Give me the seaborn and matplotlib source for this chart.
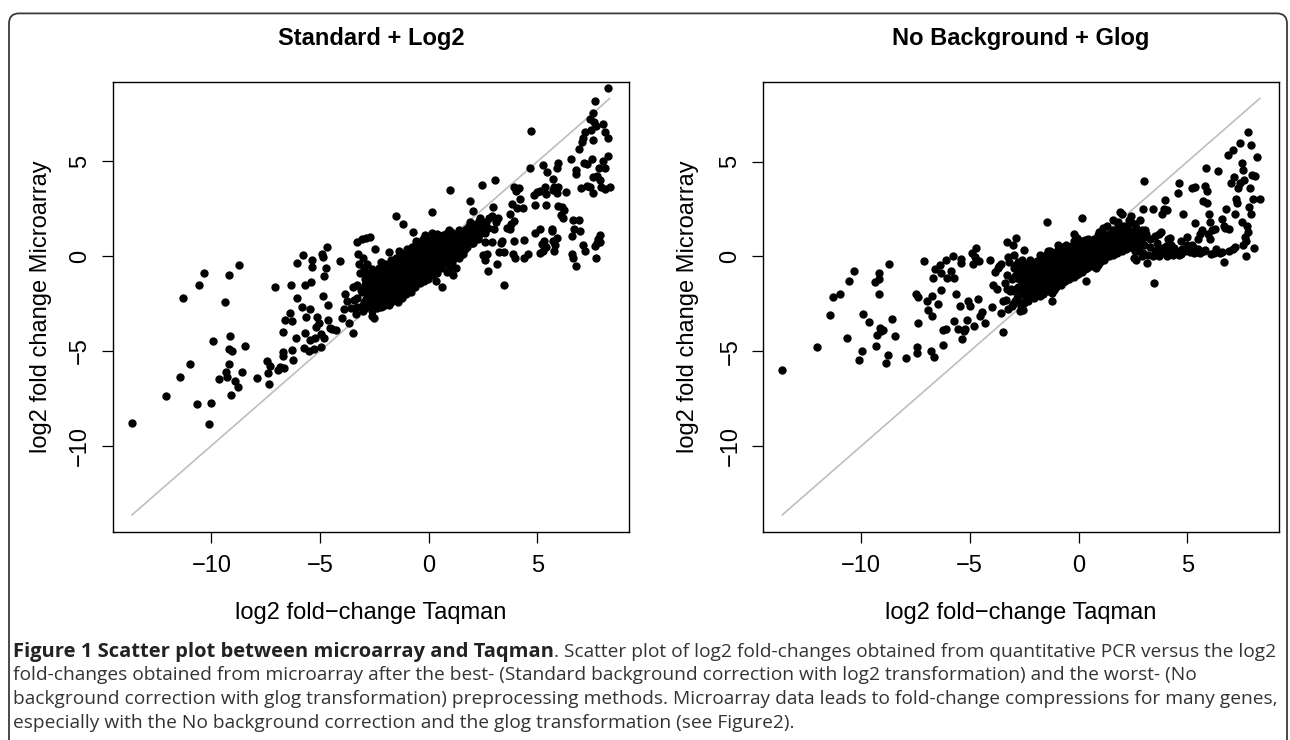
import matplotlib
matplotlib.use("Agg")
import matplotlib.pyplot as plt
import matplotlib.transforms as mtransforms
from matplotlib.patches import FancyBboxPatch
import seaborn as sns
import pandas as pd

sns.set_theme(style="white")
plt.rcParams['font.family'] = ['Liberation Sans', 'DejaVu Sans']

# ---------------- data ----------------
titles = ["Standard + Log2", "No Background + Glog"]
xlabel = "log2 fold\u2212change Taqman"
ylabel = "log2 fold change Microarray"
ticks = [-10, -5, 0, 5]

caption_bold = "Figure 1 Scatter plot between microarray and Taqman"
caption_lines = [
    ". Scatter plot of log2 fold-changes obtained from quantitative PCR versus the log2",
    "fold-changes obtained from microarray after the best- (Standard background correction with log2 transformation) and the worst- (No",
    "background correction with glog transformation) preprocessing methods. Microarray data leads to fold-change compressions for many genes,",
    "especially with the No background correction and the glog transformation (see Figure2).",
]

# (Taqman log2 FC, Microarray log2 FC) -- Standard + Log2, scattered points
std_sparse = [
    (-13.66, -8.81), (-12.08, -7.36), (-11.44, -6.39), (-11.29, -2.22), (-10.97, -5.69), (-10.68, -7.80),
    (-10.55, -1.53), (-10.34, -0.91), (-10.09, -8.83), (-10.00, -7.74), (-9.91, -4.46), (-9.64, -6.49),
    (-9.38, -2.40), (-9.34, -6.09), (-9.30, -6.35), (-9.20, -0.97), (-9.19, -5.71), (-9.17, -4.90),
    (-9.15, -4.19), (-9.11, -7.32), (-9.03, -5.00), (-8.90, -6.61), (-8.79, -6.90), (-8.73, -0.44),
    (-8.58, -6.11), (-8.47, -4.74), (-7.90, -6.41), (-7.44, -5.54), (-7.37, -6.73), (-7.41, -6.15),
    (-7.31, -5.81), (-7.06, -1.61), (-6.95, -6.01), (-6.84, -5.85), (-6.72, -3.99), (-6.70, -5.06),
    (-6.69, -5.28), (-6.65, -5.89), (-6.61, -3.37), (-6.40, -3.02), (-6.34, -1.51), (-6.31, -3.43),
    (-6.27, -4.94), (-6.23, -5.48), (-6.12, -4.33), (-6.08, -2.22), (-6.04, -0.34), (-5.85, -2.68),
    (-5.80, 0.04), (-5.74, -4.84), (-5.70, -4.03), (-5.70, -1.51), (-5.63, -3.19), (-5.51, -5.00),
    (-5.47, -4.40), (-5.45, -2.78), (-5.42, -1.37), (-5.38, -0.20), (-5.36, -0.56), (-5.28, -4.88),
    (-5.23, -4.33), (-5.17, -3.73), (-5.13, -3.23), (-5.04, -3.53), (-4.98, -4.13), (-4.94, -4.80),
    (-4.89, 0.14), (-4.87, -0.04), (-4.85, -2.08), (-4.83, -4.33), (-4.81, -1.05), (-4.75, -0.60),
    (-4.70, 0.50), (-4.62, -2.58), (-4.62, -3.39), (-4.56, -3.79), (-4.47, -3.83), (-4.28, -3.87),
    (-4.09, -0.24), (-4.00, -3.27), (-3.88, -2.78), (-3.84, -2.02), (-3.77, -2.38), (-3.66, -3.53),
    (-3.58, -2.72), (-3.50, -1.65), (-3.47, -4.07), (-3.43, -2.30), (-3.37, -3.06), (-3.28, 0.77),
    (-3.24, 0.10), (-3.20, -0.40), (-3.18, -0.91), (-3.14, -1.81), (-3.09, -2.62), (-3.05, 0.91),
    (-3.01, -0.10), (-2.95, -1.51), (-2.90, 0.97), (-2.82, -0.40), (-2.77, -2.12), (-2.71, 1.01),
    (-2.67, -1.01), (-2.61, -3.13), (-2.58, -2.42), (-2.52, -3.27), (-2.48, 0.40), (-2.44, -1.81),
    (-2.39, -2.72), (-2.33, -0.97), (-2.29, -2.22), (-2.20, -1.45), (-2.10, -2.62), (-2.01, -0.40),
    (-1.91, -2.52), (-1.82, -1.81), (-1.76, -1.21), (-1.50, 2.12), (-1.19, 1.71), (-0.74, 1.29),
    (0.17, 2.32), (0.98, 3.49), (1.88, 2.92), (2.03, 2.36), (2.44, 3.77), (3.05, 4.03),
    (4.68, 6.59), (4.66, 4.68), (5.25, 4.80), (5.44, 4.44), (5.93, 4.94), (5.89, 4.64),
    (6.52, 5.14), (5.70, 4.07), (5.76, 3.63), (6.76, 4.54), (6.76, 4.33), (6.89, 5.65),
    (7.03, 6.05), (7.08, 6.25), (7.18, 6.55), (7.14, 4.94), (7.27, 4.84), (7.41, 7.22),
    (7.48, 6.65), (7.56, 7.56), (7.65, 8.17), (7.61, 7.06), (7.67, 6.85), (7.56, 6.15),
    (7.50, 5.14), (7.84, 4.64), (8.03, 7.00), (8.09, 6.55), (8.24, 6.25), (8.24, 8.87),
    (8.03, 5.04), (8.12, 4.64), (7.75, 4.23), (7.86, 4.03), (7.56, 4.19), (7.27, 3.73),
    (7.41, 3.63), (7.92, 3.67), (8.26, 5.28), (8.33, 3.63), (7.00, 3.59), (7.54, 3.33),
    (8.12, 3.53), (6.65, 1.92), (6.89, 1.92), (6.67, 1.41), (6.97, 1.31), (6.61, 1.05),
    (6.57, 0.10), (6.65, -0.10), (6.76, -0.54), (7.08, 0.60), (7.18, 0.30), (7.65, 0.56),
    (7.75, 0.71), (7.80, 0.91), (7.86, 1.11), (7.71, -0.10), (7.86, 0.77), (6.14, 2.62),
    (5.95, 2.66), (6.23, 2.46), (6.19, 2.02), (6.08, 2.16), (6.33, 3.39), (5.89, 3.33),
    (5.70, 3.47), (5.95, 3.63), (5.34, 3.63), (5.13, 3.43), (4.85, 3.23), (5.00, 3.39),
    (5.38, 3.27), (4.87, 2.72), (5.38, 2.68), (4.87, 1.21), (5.10, 1.45), (5.66, 1.41),
    (5.70, 0.81), (5.32, 0.81), (5.19, 0.65), (5.38, 0.50), (5.13, 0.16), (5.25, 0.30),
    (5.76, 0.30), (5.81, 0.60), (5.89, 0.97), (5.66, 1.31), (4.38, 0.85), (3.92, 0.81),
    (4.58, 0.10), (4.38, -0.10), (3.96, -0.10), (3.86, 0.10), (3.58, 1.51), (3.77, 1.71),
    (3.92, 1.85), (3.73, 1.41), (4.32, 2.52), (4.19, 3.02), (4.07, 2.52), (4.13, 3.59),
    (3.92, 3.67), (4.02, 3.43), (3.73, 2.22), (3.81, 2.78), (3.48, -1.51), (3.16, -0.40),
    (2.73, -0.77), (2.59, -0.20), (2.48, 0.04), (2.67, 0.10), (2.92, 0.77), (3.30, 0.71),
    (3.24, 0.20), (3.48, 0.20), (3.37, 0.81), (3.01, 1.45), (3.11, 1.81), (3.20, 2.02),
    (2.78, 2.02), (2.92, 2.12), (2.97, 2.62), (2.73, 1.51), (2.59, 0.77), (2.59, 1.21),
    (2.44, 1.41), (2.29, 1.81), (2.06, 1.61), (1.88, 1.81), (1.84, 1.41), (2.16, 1.21),
    (2.25, 0.91), (2.03, 0.71), (1.69, 0.60), (1.59, 0.10), (1.40, -0.10), (1.27, -0.60),
    (1.12, -0.97), (0.83, -0.81), (0.59, -1.61), (0.32, -1.31), (0.93, 1.37), (0.64, 1.11),
    (0.40, 1.17), (0.13, 1.21), (-0.17, 1.11), (-0.25, 0.91),
]

# Standard + Log2, dense core of the cloud
std_core = [
    (-3.02, -2.9), (-2.97, -2.4), (-3.05, -1.9), (-2.95, -1.2), (-3.00, -0.6),
    (-2.83, -2.6), (-2.78, -2.1), (-2.85, -1.6), (-2.76, -1.0),
    (-2.63, -2.9), (-2.58, -2.3), (-2.62, -1.8), (-2.55, -1.3), (-2.60, -0.7),
    (-2.43, -2.5), (-2.38, -2.0), (-2.41, -1.5), (-2.36, -1.1),
    (-2.22, -2.7), (-2.17, -2.2), (-2.24, -1.8), (-2.19, -1.3), (-2.15, -0.8), (-2.21, -0.3),
    (-2.03, -2.4), (-1.98, -2.0), (-2.02, -1.6), (-1.96, -1.2), (-2.05, -0.9),
    (-1.82, -2.6), (-1.78, -2.1), (-1.84, -1.7), (-1.77, -1.4), (-1.81, -1.0), (-1.76, -0.5), (-1.83, 0.2),
    (-1.62, -2.2), (-1.57, -1.9), (-1.63, -1.5), (-1.58, -1.2), (-1.61, -0.8), (-1.56, -0.4),
    (-1.43, -2.4), (-1.38, -2.0), (-1.42, -1.7), (-1.37, -1.3), (-1.41, -1.0), (-1.36, -0.6), (-1.44, -0.2), (-1.39, 0.3),
    (-1.22, -2.2), (-1.18, -1.8), (-1.23, -1.5), (-1.17, -1.1), (-1.21, -0.8), (-1.16, -0.5), (-1.20, -0.1),
    (-1.03, -2.0), (-0.98, -1.7), (-1.02, -1.4), (-0.97, -1.1), (-1.01, -0.8), (-0.96, -0.5), (-1.04, -0.2), (-0.99, 0.4),
    (-0.82, -1.9), (-0.78, -1.5), (-0.83, -1.2), (-0.77, -0.9), (-0.81, -0.6), (-0.76, -0.3), (-0.80, 0.0), (-0.79, 0.5),
    (-0.62, -1.6), (-0.58, -1.3), (-0.63, -1.0), (-0.57, -0.7), (-0.61, -0.4), (-0.56, -0.1), (-0.60, 0.3), (-0.59, 0.8),
    (-0.42, -1.4), (-0.38, -1.1), (-0.43, -0.8), (-0.37, -0.5), (-0.41, -0.2), (-0.36, 0.1), (-0.40, 0.5),
    (-0.22, -1.3), (-0.18, -1.0), (-0.23, -0.7), (-0.17, -0.4), (-0.21, -0.1), (-0.16, 0.2), (-0.20, 0.6), (-0.19, 1.0),
    (-0.02, -1.2), (0.02, -0.8), (-0.03, -0.5), (0.03, -0.2), (-0.01, 0.1), (0.04, 0.4), (0.00, 0.7),
    (0.18, -1.0), (0.22, -0.6), (0.17, -0.3), (0.23, 0.0), (0.19, 0.3), (0.24, 0.6), (0.20, 0.9),
    (0.38, -0.9), (0.42, -0.5), (0.37, -0.2), (0.43, 0.1), (0.39, 0.4), (0.44, 0.8), (0.40, 1.1),
    (0.58, -0.6), (0.62, -0.3), (0.57, 0.0), (0.63, 0.3), (0.59, 0.6), (0.64, 0.9),
    (0.78, -0.4), (0.82, -0.1), (0.77, 0.2), (0.83, 0.5), (0.79, 0.8), (0.84, 1.2),
    (0.98, -0.6), (1.02, -0.2), (0.97, 0.2), (1.03, 0.5), (0.99, 0.9), (1.04, 1.3),
    (1.18, -0.1), (1.22, 0.3), (1.17, 0.6), (1.23, 1.0),
    (1.38, 0.1), (1.42, 0.4), (1.37, 0.8), (1.43, 1.1), (1.39, 1.4),
    (1.58, 0.3), (1.62, 0.7), (1.57, 1.0), (1.63, 1.3),
    (1.78, 0.5), (1.82, 0.9), (1.77, 1.2), (1.83, 1.6),
    (1.98, 0.7), (2.02, 1.1), (1.97, 1.5),
    (2.18, 0.9), (2.22, 1.3), (2.17, 1.7),
    (2.38, 1.2), (2.42, 1.6), (2.37, 2.0),
    (2.58, 1.4), (2.62, 1.8),
]

# Standard + Log2, more points filling the core
std_core_fill = [
    (-3.32, -2.7), (-3.28, -2.2), (-3.31, -1.5),
    (-2.92, -2.75), (-2.88, -2.25), (-2.91, -1.75), (-2.87, -1.4), (-2.9, -0.9),
    (-2.72, -2.45), (-2.68, -1.95), (-2.71, -1.5), (-2.67, -1.15),
    (-2.52, -2.7), (-2.48, -2.15), (-2.51, -1.65), (-2.47, -1.2), (-2.5, -0.9),
    (-2.32, -2.35), (-2.28, -1.9), (-2.31, -1.6), (-2.27, -1.2), (-2.3, -0.6),
    (-2.12, -2.5), (-2.08, -2.1), (-2.11, -1.7), (-2.07, -1.4), (-2.1, -1.05), (-2.09, -0.6),
    (-1.92, -2.3), (-1.88, -1.85), (-1.91, -1.5), (-1.87, -1.15), (-1.9, -0.75),
    (-1.72, -2.4), (-1.68, -2.0), (-1.71, -1.6), (-1.67, -1.3), (-1.7, -0.95), (-1.69, -0.6), (-1.73, -0.2),
    (-1.52, -2.3), (-1.48, -1.85), (-1.51, -1.55), (-1.47, -1.15), (-1.5, -0.9), (-1.49, -0.5), (-1.53, -0.1),
    (-1.32, -2.1), (-1.28, -1.65), (-1.31, -1.35), (-1.27, -0.95), (-1.3, -0.65), (-1.29, -0.3), (-1.33, 0.1),
    (-1.12, -1.9), (-1.08, -1.55), (-1.11, -1.25), (-1.07, -0.95), (-1.1, -0.65), (-1.09, -0.35), (-1.13, 0.1),
    (-0.92, -1.8), (-0.88, -1.35), (-0.91, -1.05), (-0.87, -0.75), (-0.9, -0.45), (-0.89, -0.15), (-0.93, 0.2),
    (-0.72, -1.45), (-0.68, -1.15), (-0.71, -0.85), (-0.67, -0.55), (-0.7, -0.25), (-0.69, 0.1), (-0.73, 0.5),
    (-0.52, -1.25), (-0.48, -0.95), (-0.51, -0.65), (-0.47, -0.35), (-0.5, -0.05), (-0.49, 0.3), (-0.53, 0.65),
    (-0.32, -1.15), (-0.28, -0.85), (-0.31, -0.55), (-0.27, -0.25), (-0.3, 0.05), (-0.29, 0.4), (-0.33, 0.8),
    (-0.12, -1.0), (-0.08, -0.65), (-0.11, -0.35), (-0.07, -0.05), (-0.1, 0.25), (-0.09, 0.55), (-0.13, 0.9),
    (0.08, -0.9), (0.12, -0.45), (0.09, -0.15), (0.13, 0.15), (0.1, 0.45), (0.11, 0.8),
    (0.28, -0.75), (0.32, -0.35), (0.29, -0.05), (0.33, 0.25), (0.3, 0.55), (0.31, 0.95),
    (0.48, -0.45), (0.52, -0.15), (0.49, 0.15), (0.53, 0.45), (0.5, 0.75), (0.51, 1.05),
    (0.68, -0.25), (0.72, 0.05), (0.69, 0.35), (0.73, 0.65), (0.7, 1.0),
    (0.88, -0.4), (0.92, 0.0), (0.89, 0.35), (0.93, 0.7), (0.9, 1.1),
    (1.08, -0.3), (1.12, 0.1), (1.09, 0.45), (1.13, 0.8), (1.1, 1.15),
    (1.28, 0.2), (1.32, 0.55), (1.29, 0.9), (1.33, 1.25),
    (1.48, 0.2), (1.52, 0.55), (1.49, 0.9), (1.53, 1.2),
    (1.68, 0.4), (1.72, 0.8), (1.69, 1.15), (1.73, 1.45),
    (1.88, 0.9), (1.92, 1.3), (2.08, 0.9), (2.12, 1.3),
    (2.28, 1.0), (2.32, 1.45), (2.29, 1.85),
]

# No Background + Glog, scattered points
nbg_sparse = [
    (-13.62, -5.99), (-12.04, -4.78), (-11.42, -3.06), (-11.26, -2.16), (-10.94, -1.98), (-10.66, -4.29),
    (-10.53, -1.27), (-10.32, -0.77), (-10.09, -5.44), (-9.96, -5.00), (-9.91, -3.02), (-9.62, -3.47),
    (-9.34, -1.35), (-9.30, -4.74), (-9.25, -4.13), (-9.19, -1.98), (-9.19, -0.85), (-9.15, -1.17),
    (-9.11, -3.79), (-9.06, -3.93), (-9.00, -3.87), (-8.87, -5.60), (-8.77, -5.18), (-8.72, -0.40),
    (-8.58, -3.27), (-8.45, -4.17), (-7.91, -5.34), (-7.49, -1.96), (-7.42, -4.78), (-7.40, -5.08),
    (-7.36, -3.53), (-7.36, -2.12), (-7.08, -0.24), (-6.96, -2.32), (-6.92, -2.82), (-6.79, -5.00),
    (-6.75, -3.13), (-6.74, -2.06), (-6.70, -1.11), (-6.64, -5.30), (-6.60, -0.67), (-6.45, -2.52),
    (-6.36, -0.44), (-6.32, -1.75), (-6.30, -0.85), (-6.25, -4.64), (-6.21, -3.87), (-6.08, -0.20),
    (-6.09, -3.83), (-6.04, -1.15), (-5.85, -0.77), (-5.79, 0.04), (-5.72, -1.15), (-5.72, -3.39),
    (-5.62, -1.96), (-5.53, -3.83), (-5.47, -2.62), (-5.42, -0.36), (-5.38, -0.14), (-5.34, -4.33),
    (-5.26, -3.93), (-5.23, -3.83), (-5.13, -3.33), (-5.06, -2.32), (-5.00, -2.62), (-4.91, 0.16),
    (-4.85, -0.40), (-4.81, -3.67), (-4.75, -0.04), (-4.70, 0.44), (-4.64, -2.22), (-4.58, -0.24),
    (-4.53, -3.13), (-4.43, -2.92), (-4.32, -3.49), (-4.09, -0.16), (-3.96, -2.66), (-3.91, -1.51),
    (-3.83, -0.81), (-3.77, -1.71), (-3.72, -0.60), (-3.64, -0.50), (-3.57, -2.98), (-3.57, -0.40),
    (-3.49, -2.32), (-3.45, -3.97), (-3.40, -1.41), (-3.30, 0.75), (-3.26, -2.78), (-3.25, -0.04),
    (-3.19, -0.30), (-3.15, -1.81), (-3.11, -1.71), (-3.06, -2.62), (-3.02, 0.60), (-2.96, 0.10),
    (-2.89, 0.97), (-2.83, -1.11), (-2.74, -2.38), (-2.68, -2.86), (-2.64, -0.44), (-2.58, -1.41),
    (-2.55, -2.82), (-2.51, 0.36), (-2.45, -2.02), (-2.40, -1.31), (-2.32, -2.32), (-2.21, -0.60),
    (-2.17, -1.61), (-2.08, -0.40), (-1.98, -1.81), (-1.89, -1.01), (-1.79, -2.06), (-1.70, -0.20),
    (-1.45, 1.81), (-1.23, -2.32), (-0.94, 0.60), (-0.19, 1.17), (0.15, 2.02), (0.32, -1.31),
    (-0.09, 0.97), (0.94, 1.31), (1.89, 2.32), (1.98, 2.22), (2.40, 2.12), (3.02, 3.97),
    (2.96, 2.52), (3.40, 2.52), (3.45, -1.41), (3.77, 1.31), (3.68, 1.17), (3.96, 2.98),
    (3.91, 2.52), (4.06, 2.46), (3.83, 2.22), (3.15, -0.36), (2.64, -0.20), (2.55, -0.10),
    (2.92, 0.04), (3.40, 0.04), (3.64, 0.40), (3.87, 0.44), (4.06, 0.04), (4.34, 0.10),
    (4.25, 0.60), (4.09, 0.91), (4.62, 3.87), (4.58, 3.33), (4.81, 2.22), (4.62, 0.10),
    (4.77, 0.40), (5.00, 1.05), (5.04, 0.50), (5.19, 0.60), (5.28, 0.20), (5.23, 3.59),
    (5.34, 3.67), (5.34, 1.77), (5.47, 0.40), (5.57, 0.16), (5.66, 1.41), (5.60, 1.21),
    (5.72, 2.92), (5.79, 3.73), (5.85, 4.68), (5.91, 3.43), (5.91, 2.82), (5.98, 2.22),
    (6.04, 1.81), (5.94, 1.21), (6.04, 0.91), (5.75, 0.30), (6.13, 1.41), (6.23, 0.20),
    (6.28, 1.45), (6.42, 4.48), (6.51, 0.16), (6.60, 1.98), (6.66, 1.61), (6.70, -0.30),
    (6.74, 1.51), (6.79, 2.52), (6.85, 5.34), (6.89, 1.45), (6.98, 3.87), (7.08, 0.40),
    (7.11, 5.60), (7.13, 4.19), (7.19, 2.22), (7.23, 3.02), (7.26, 2.82), (7.32, 3.63),
    (7.40, 6.00), (7.42, 3.87), (7.49, 4.94), (7.51, 1.81), (7.55, 0.60), (7.57, 4.54),
    (7.60, 4.03), (7.64, 1.01), (7.68, 0.00), (7.74, 1.61), (7.79, 6.55), (7.83, 2.62),
    (7.87, 3.63), (7.92, 5.85), (7.94, 2.22), (7.98, 4.27), (8.02, 3.02), (8.08, 0.44),
    (8.11, 4.23), (8.21, 5.24), (8.33, 3.02), (7.77, 1.31), (7.70, 0.81),
    (1.79, 1.81), (2.10, 1.60), (2.30, 1.90), (2.60, 1.70), (2.80, 1.90), (3.10, 1.20),
    (3.30, 0.90), (2.90, 1.40), (1.60, 1.90), (1.30, 1.60), (1.10, 1.50), (3.20, 0.10),
    (3.50, 0.30), (3.70, 0.00), (3.90, 0.20), (4.10, 0.35), (4.30, 0.30), (4.50, 0.25),
    (4.70, 0.15), (4.90, 0.30), (5.10, 0.25), (5.30, 0.45), (5.50, 0.25), (5.80, 0.35),
    (6.10, 0.15), (6.30, 0.40), (6.60, 0.25), (6.90, 0.30), (7.20, 0.50), (3.30, 0.50),
    (3.60, 0.70), (4.00, 0.55), (4.40, 0.45), (5.00, 0.60), (4.20, 1.00), (3.50, 1.10),
    (4.70, 0.80), (5.50, 0.90),
]

# No Background + Glog, dense core of the cloud
nbg_core = [
    (-3.02, -2.5), (-2.97, -1.8), (-3.04, -1.2), (-2.96, -0.6),
    (-2.83, -2.2), (-2.78, -1.6), (-2.84, -0.9), (-2.77, -0.3),
    (-2.63, -2.6), (-2.58, -2.0), (-2.62, -1.5), (-2.56, -0.8), (-2.61, -0.2),
    (-2.43, -2.3), (-2.38, -1.8), (-2.42, -1.2), (-2.37, -0.5),
    (-2.22, -2.1), (-2.18, -1.6), (-2.23, -1.1), (-2.17, -0.7), (-2.21, -0.2),
    (-2.03, -2.2), (-1.98, -1.7), (-2.02, -1.3), (-1.97, -0.9), (-2.01, -0.5),
    (-1.82, -1.9), (-1.78, -1.5), (-1.83, -1.1), (-1.77, -0.7), (-1.81, -0.3), (-1.76, 0.1),
    (-1.62, -2.0), (-1.58, -1.6), (-1.63, -1.2), (-1.57, -0.9), (-1.61, -0.5), (-1.56, -0.1),
    (-1.42, -1.8), (-1.38, -1.4), (-1.43, -1.1), (-1.37, -0.8), (-1.41, -0.4), (-1.36, 0.0), (-1.40, 0.3),
    (-1.22, -1.9), (-1.18, -1.5), (-1.23, -1.2), (-1.17, -0.9), (-1.21, -0.6), (-1.16, -0.3), (-1.20, 0.1),
    (-1.02, -1.6), (-0.98, -1.3), (-1.03, -1.0), (-0.97, -0.7), (-1.01, -0.4), (-0.96, -0.1), (-1.00, 0.3),
    (-0.82, -1.5), (-0.78, -1.2), (-0.83, -0.9), (-0.77, -0.6), (-0.81, -0.3), (-0.76, 0.0), (-0.80, 0.4),
    (-0.62, -1.3), (-0.58, -1.0), (-0.63, -0.7), (-0.57, -0.4), (-0.61, -0.1), (-0.56, 0.2), (-0.60, 0.6),
    (-0.42, -1.2), (-0.38, -0.9), (-0.43, -0.6), (-0.37, -0.3), (-0.41, 0.0), (-0.36, 0.3),
    (-0.22, -1.1), (-0.18, -0.8), (-0.23, -0.5), (-0.17, -0.2), (-0.21, 0.1), (-0.16, 0.4), (-0.20, 0.8),
    (-0.02, -0.9), (0.02, -0.6), (-0.03, -0.3), (0.03, 0.0), (-0.01, 0.3), (0.04, 0.6),
    (0.18, -0.8), (0.22, -0.5), (0.17, -0.2), (0.23, 0.1), (0.19, 0.4), (0.24, 0.7),
    (0.38, -0.6), (0.42, -0.3), (0.37, 0.0), (0.43, 0.3), (0.39, 0.6), (0.44, 0.9),
    (0.58, -0.5), (0.62, -0.2), (0.57, 0.1), (0.63, 0.4), (0.59, 0.7),
    (0.78, -0.6), (0.82, -0.3), (0.77, 0.0), (0.83, 0.3), (0.79, 0.6), (0.84, 1.0),
    (0.98, -0.3), (1.02, 0.0), (0.97, 0.3), (1.03, 0.6), (0.99, 0.9), (1.04, 1.3),
    (1.18, -0.2), (1.22, 0.1), (1.17, 0.4), (1.23, 0.7), (1.19, 1.1),
    (1.38, 0.0), (1.42, 0.3), (1.37, 0.6), (1.43, 0.9), (1.39, 1.2),
    (1.58, 0.1), (1.62, 0.4), (1.57, 0.7), (1.63, 1.0), (1.59, 1.4),
    (1.78, 0.2), (1.82, 0.5), (1.77, 0.9), (1.83, 1.2), (1.79, 1.7),
    (1.98, 0.3), (2.02, 0.7), (1.97, 1.0), (2.03, 1.5),
    (2.18, 0.4), (2.22, 0.8), (2.17, 1.2), (2.23, 1.6),
    (2.38, 0.5), (2.42, 0.9), (2.37, 1.3), (2.43, 1.8),
    (2.58, 0.3), (2.62, 0.7), (2.57, 1.1), (2.63, 1.5),
    (2.78, 0.5), (2.82, 0.9), (2.77, 1.3),
    (2.98, 0.2), (3.02, 0.6), (2.97, 1.0), (3.03, 1.4),
]

# No Background + Glog, more points filling the core
nbg_core_fill = [
    (-3.32, -2.3), (-3.28, -1.7), (-3.31, -1.0),
    (-2.92, -2.35), (-2.88, -1.7), (-2.91, -1.05), (-2.87, -0.45),
    (-2.72, -2.4), (-2.68, -1.8), (-2.71, -1.2), (-2.67, -0.55),
    (-2.52, -2.45), (-2.48, -1.75), (-2.51, -1.0), (-2.47, -0.4),
    (-2.32, -2.2), (-2.28, -1.5), (-2.31, -0.9), (-2.27, -0.35),
    (-2.12, -1.9), (-2.08, -1.35), (-2.11, -0.9), (-2.07, -0.45),
    (-1.92, -2.0), (-1.88, -1.5), (-1.91, -1.1), (-1.87, -0.7), (-1.9, -0.25),
    (-1.72, -1.7), (-1.68, -1.3), (-1.71, -0.9), (-1.67, -0.5), (-1.7, -0.1),
    (-1.52, -1.8), (-1.48, -1.4), (-1.51, -1.05), (-1.47, -0.7), (-1.5, -0.3), (-1.49, 0.1),
    (-1.32, -1.65), (-1.28, -1.3), (-1.31, -1.0), (-1.27, -0.7), (-1.3, -0.4), (-1.29, -0.05), (-1.33, 0.3),
    (-1.12, -1.75), (-1.08, -1.4), (-1.11, -1.1), (-1.07, -0.8), (-1.1, -0.5), (-1.09, -0.15), (-1.13, 0.2),
    (-0.92, -1.4), (-0.88, -1.1), (-0.91, -0.8), (-0.87, -0.5), (-0.9, -0.2), (-0.89, 0.15),
    (-0.72, -1.35), (-0.68, -1.05), (-0.71, -0.75), (-0.67, -0.45), (-0.7, -0.15), (-0.69, 0.2), (-0.73, 0.5),
    (-0.52, -1.2), (-0.48, -0.85), (-0.51, -0.55), (-0.47, -0.25), (-0.5, 0.1), (-0.49, 0.45),
    (-0.32, -1.0), (-0.28, -0.7), (-0.31, -0.4), (-0.27, -0.1), (-0.3, 0.2), (-0.29, 0.55),
    (-0.12, -0.95), (-0.08, -0.65), (-0.11, -0.35), (-0.07, -0.05), (-0.1, 0.25), (-0.09, 0.6),
    (0.08, -0.75), (0.12, -0.45), (0.09, -0.15), (0.13, 0.15), (0.1, 0.45), (0.11, 0.8),
    (0.28, -0.65), (0.32, -0.35), (0.29, -0.05), (0.33, 0.25), (0.3, 0.55), (0.31, 0.85),
    (0.48, -0.4), (0.52, -0.1), (0.49, 0.2), (0.53, 0.5), (0.5, 0.8),
    (0.68, -0.35), (0.72, -0.05), (0.69, 0.25), (0.73, 0.55), (0.7, 0.9),
    (0.88, -0.45), (0.92, -0.15), (0.89, 0.15), (0.93, 0.45), (0.9, 0.8), (0.91, 1.15),
    (1.08, -0.1), (1.12, 0.2), (1.09, 0.5), (1.13, 0.85), (1.1, 1.2),
    (1.28, 0.05), (1.32, 0.35), (1.29, 0.65), (1.33, 1.0),
    (1.48, 0.15), (1.52, 0.45), (1.49, 0.8), (1.53, 1.1),
    (1.68, 0.3), (1.72, 0.6), (1.69, 1.0), (1.73, 1.35),
    (1.88, 0.45), (1.92, 0.85), (1.89, 1.3),
    (2.08, 0.5), (2.12, 0.95), (2.09, 1.35),
    (2.28, 0.6), (2.32, 1.05), (2.29, 1.45),
    (2.48, 0.45), (2.52, 0.85), (2.49, 1.3),
    (2.68, 0.3), (2.72, 0.7), (2.69, 1.15),
]

panels = [std_sparse + std_core + std_core_fill, nbg_sparse + nbg_core + nbg_core_fill]

# ---------------- figure ----------------
W, H = 1290, 740
fig = plt.figure(figsize=(W / 100, H / 100), dpi=100)
fig.patch.set_facecolor("white")

# axes boxes in pixel coordinates (left, top, width, height)
boxes = [(112.7, 81.7, 516.3, 450.0), (763.0, 81.7, 516.0, 450.0)]
ylabel_px = [41.0, 688.0]

FS = 17
for i, (pts, (l, t, w, h)) in enumerate(zip(panels, boxes)):
    ax = fig.add_axes([l / W, (H - t - h) / H, w / W, h / H])
    df = pd.DataFrame(pts, columns=["taqman", "microarray"])
    lo, hi = df["taqman"].min(), df["taqman"].max()
    ax.plot([lo, hi], [lo, hi], color="#BEBEBE", lw=1.2, zorder=1)
    sns.scatterplot(data=df, x="taqman", y="microarray", ax=ax, color="black",
                    s=36, linewidth=0, zorder=2, legend=False)
    r = hi - lo
    ax.set_xlim(lo - 0.04 * r, hi + 0.04 * r)
    ax.set_ylim(lo - 0.04 * r, hi + 0.04 * r)
    ax.set_xticks(ticks)
    ax.set_yticks(ticks)
    ax.tick_params(direction="out", length=8, width=0.9, color="black",
                   labelsize=FS, left=True, bottom=True, labelcolor="black")
    ax.tick_params(axis="x", pad=9)
    ax.tick_params(axis="y", pad=7.5)
    for lab in ax.get_yticklabels():
        lab.set_rotation(90)
        lab.set_va("center")
    for sp in ax.spines.values():
        sp.set_visible(True)
        sp.set_color("black")
        sp.set_linewidth(1.0)
    ax.set_xlabel(xlabel, fontsize=FS, color="black")
    ax.set_ylabel(ylabel, fontsize=FS, color="black")
    ax.xaxis.set_label_coords(0.5, (t + h - 613.0) / h)
    ax.xaxis.label.set_va("center")
    ax.yaxis.set_label_coords((ylabel_px[i] - l) / w, 0.5)
    ax.yaxis.label.set_va("center")
    ax.set_title(titles[i], fontsize=FS, fontweight="bold", color="black",
                 y=1 + (t - 38.3) / h, va="center", pad=0)
    ax.set_facecolor("white")

# rounded border around the figure
border = FancyBboxPatch((9, -30), 1278, 740 - 13.4 + 30,
                        boxstyle="round,pad=0,rounding_size=10",
                        transform=mtransforms.IdentityTransform(),
                        facecolor="none", edgecolor="#3a3a3a", linewidth=1.3)
fig.add_artist(border)

# caption
cap_family = ["Open Sans", "DejaVu Sans"]
x0 = 13.0
line_y = [652.0, 675.5, 699.5, 723.0]
fs0 = 11
tb = fig.text(x0 / W, 1 - line_y[0] / H, caption_bold, fontsize=fs0, fontweight="bold",
              family=cap_family, va="center", ha="left", color="#222222")
tn = [fig.text(x0 / W, 1 - y / H, s, fontsize=fs0, family=cap_family, va="center",
               ha="left", color="#333333") for s, y in zip(caption_lines, line_y)]
fig.canvas.draw()
rend = fig.canvas.get_renderer()
# fit the regular text so that the longest line fills the caption width
w3 = tn[2].get_window_extent(rend).width
fs_reg = fs0 * 1266.0 / w3
wb = tb.get_window_extent(rend).width
wn1 = tn[0].get_window_extent(rend).width * fs_reg / fs0
fs_bold = min(fs0 * 598.0 / wb, fs0 * (1264.0 - wn1) / wb)
tb.set_fontsize(fs_bold)
for t_ in tn:
    t_.set_fontsize(fs_reg)
fig.canvas.draw()
bb = tb.get_window_extent(rend)
tn[0].set_x(bb.x1 / W)

fig.savefig("out.png", dpi=100, facecolor="white")
